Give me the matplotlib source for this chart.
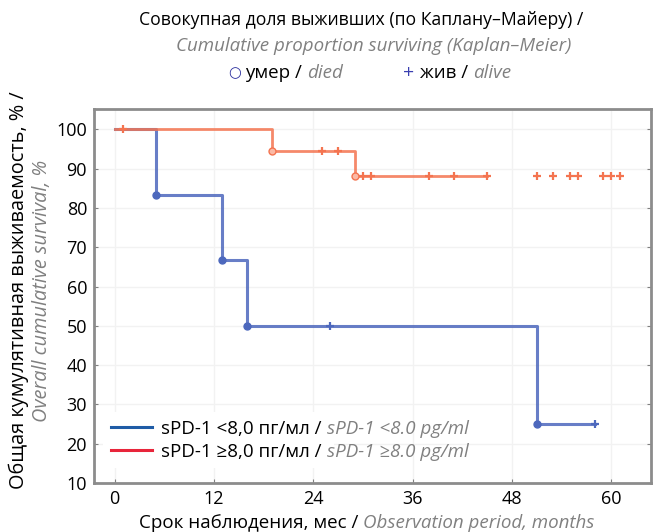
import matplotlib.pyplot as plt
import numpy as np

plt.rcParams['font.family'] = ['Open Sans', 'DejaVu Sans']

# low sPD-1 group
blue_t = [0, 5, 13, 16, 51, 58]
blue_s = [100, 83.3, 66.7, 50, 25, 25]
blue_died = [5, 13, 16, 51]
blue_alive = [26, 58]

# high sPD-1 group
red_t = [0, 19, 29, 45]
red_s = [100, 94.4, 88.1, 88.1]
red_died = [19, 29]
red_alive = [1, 25, 27, 30, 31, 38, 41, 45, 51, 53, 55, 56, 59, 60, 61]
red_plateau = 88.1

xticks = [0, 12, 24, 36, 48, 60]
yticks = [10, 20, 30, 40, 50, 60, 70, 80, 90, 100]

blue = '#4d68bd'
red = '#f47450'
gray = '#808080'


def surv_at(t, times, surv, last):
    out = []
    for v in t:
        if v > times[-1]:
            out.append(last)
        else:
            idx = max(i for i in range(len(times)) if times[i] <= v)
            out.append(surv[idx])
    return out


fig = plt.figure(figsize=(6.54, 5.32), dpi=100)
ax = fig.add_axes([0.1437, 0.0921, 0.8517, 0.7030])

ax.step(blue_t, blue_s, where='post', color=blue, lw=2.2, alpha=0.85, zorder=3)
ax.plot(blue_died, surv_at(blue_died, blue_t, blue_s, 25), 'o', color=blue, ms=5, zorder=4)
ax.plot(blue_alive, surv_at(blue_alive, blue_t, blue_s, 25), '+', color=blue, ms=6, mew=1.6, zorder=4)

ax.step(red_t, red_s, where='post', color=red, lw=2.0, alpha=0.85, zorder=3)
ax.plot(red_died, surv_at(red_died, red_t, red_s, red_plateau), 'o', color=red, ms=5,
        mfc='#fbb9a5', zorder=4)
ax.plot(red_alive, surv_at(red_alive, red_t, red_s, red_plateau), '+', color=red, ms=6, mew=1.6, zorder=4)

ax.set_xlim(-2.5, 64.8)
ax.set_ylim(10, 105.2)
ax.set_xticks(xticks)
ax.set_yticks(yticks)
ax.grid(True, color='#f2f2f2', lw=1)
ax.set_axisbelow(True)
ax.tick_params(direction='in', length=3, color=gray, labelsize=13, right=True, pad=5)
for sp in ax.spines.values():
    sp.set_color('#8c8c8c')
    sp.set_linewidth(2)

# legend
fs = 13.5
h1, = ax.plot([], [], color='#1f5ca6', lw=2.2)
h2, = ax.plot([], [], color='#e8253b', lw=2.2)
leg = ax.legend([h1, h2], ['sPD-1 <8,0 пг/мл / ', 'sPD-1 \u22658,0 пг/мл / '],
                loc='lower left', bbox_to_anchor=(0.0, 0.015), frameon=True, fontsize=fs,
                handlelength=2.2, handletextpad=0.5, labelspacing=0.25, borderaxespad=0.5)
leg.get_frame().set_edgecolor('none')
leg.get_frame().set_facecolor('white')
leg.get_frame().set_alpha(1)
for txt, en in zip(leg.get_texts(), ['sPD-1 <8.0 pg/ml', 'sPD-1 \u22658.0 pg/ml']):
    ax.annotate(en, xy=(1, 0), xycoords=txt, va='bottom', ha='left', fontsize=fs,
                color=gray, style='italic', zorder=10)

# titles
fig.text(0.553, 0.963, 'Совокупная доля выживших (по Каплану\u2013Майеру) /',
         ha='center', va='center', fontsize=12.7)
fig.text(0.572, 0.914, 'Cumulative proportion surviving (Kaplan\u2013Meier)',
         ha='center', va='center', fontsize=fs, color=gray, style='italic')
fig.text(0.358, 0.862, '\u25cb', ha='center', va='center', fontsize=10.5, color='#2b2f9e')
t1 = fig.text(0.375, 0.862, 'умер / ', ha='left', va='center', fontsize=fs)
ax.annotate('died', xy=(1, 0), xycoords=t1, ha='left', va='bottom', fontsize=fs,
            color=gray, style='italic', annotation_clip=False)
fig.text(0.624, 0.862, '+', ha='center', va='center', fontsize=14, color='#3a3fb0')
t2 = fig.text(0.642, 0.862, 'жив / ', ha='left', va='center', fontsize=fs)
ax.annotate('alive', xy=(1, 0), xycoords=t2, ha='left', va='bottom', fontsize=fs,
            color=gray, style='italic', annotation_clip=False)

# axis labels
tx = fig.text(0.212, 0.017, 'Срок наблюдения, мес / ', ha='left', va='center', fontsize=fs)
ax.annotate('Observation period, months', xy=(1, 0), xycoords=tx, ha='left', va='bottom',
            fontsize=fs, color=gray, style='italic', annotation_clip=False)
fig.text(0.028, 0.455, 'Общая кумулятивная выживаемость, % /', rotation=90,
         ha='center', va='center', fontsize=14.3)
fig.text(0.064, 0.453, 'Overall cumulative survival, %', rotation=90,
         ha='center', va='center', fontsize=14.3, color=gray, style='italic')

fig.savefig('out.png', dpi=100)
